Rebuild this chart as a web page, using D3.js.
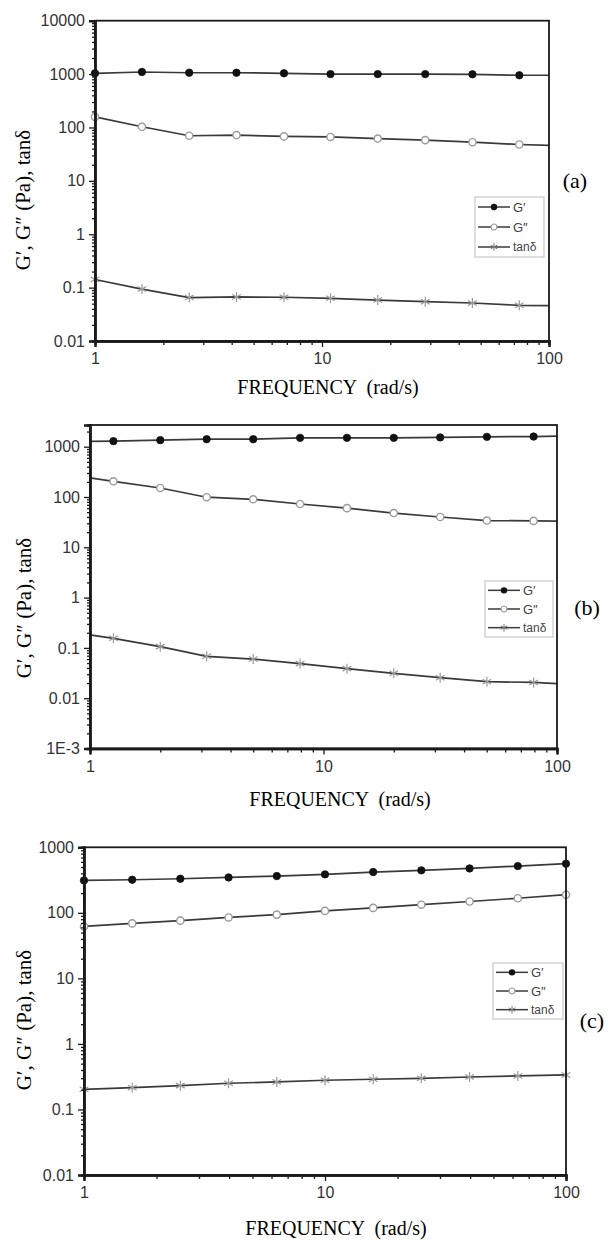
<!DOCTYPE html>
<html>
<head>
<meta charset="utf-8">
<script src="https://cdn.jsdelivr.net/npm/d3@7"></script>
<style>
  body { margin: 0; background: #fff; }
  svg { display: block; }
</style>
</head>
<body>
<svg width="612" height="1241"></svg>
<script>
const svg = d3.select('svg')

// panel (a)
const freqA = [1, 1.61, 2.6, 4.2, 6.8, 10.9, 17.6, 28.5, 46, 74, 100];
const gpA   = [1035, 1095, 1060, 1060, 1035, 1000, 1000, 1000, 990, 950, 950];
const gppA  = [158, 103, 70, 72, 68, 66.5, 62, 58, 53, 48, 46];
const tanA  = [0.142, 0.094, 0.065, 0.067, 0.066, 0.063, 0.0585, 0.0545, 0.0515, 0.0466, 0.046];
const yTicksA = [10000, 1000, 100, 10, 1, 0.1, 0.01];
const yLabelsA = ['10000', '1000', '100', '10', '1', '0.1', '0.01'];

// panel (b)
const freqB = [1, 1.26, 2, 3.16, 5, 7.94, 12.6, 20, 31.6, 50.1, 79.4, 100];
const gpB   = [1280, 1290, 1350, 1410, 1410, 1500, 1500, 1500, 1530, 1570, 1590, 1620];
const gppB  = [239, 205, 151, 99, 90, 72.5, 60, 48, 40, 34, 33.5, 33];
const tanB  = [0.181, 0.155, 0.106, 0.068, 0.060, 0.0487, 0.0387, 0.0312, 0.0256, 0.0213, 0.0206, 0.0195];
const yTicksB = [1000, 100, 10, 1, 0.1, 0.01, 0.001];
const yLabelsB = ['1000', '100', '10', '1', '0.1', '0.01', '1E-3'];

// panel (c)
const freqC = [1, 1.585, 2.51, 3.98, 6.31, 10, 15.85, 25.1, 39.8, 63.1, 100];
const gpC   = [312, 320, 331, 347, 364, 386, 419, 445, 476, 517, 562];
const gppC  = [62, 69, 76, 85, 94, 107, 119, 133, 149, 167, 189];
const tanC  = [0.203, 0.215, 0.231, 0.251, 0.263, 0.279, 0.289, 0.299, 0.313, 0.325, 0.336];
const yTicksC = [1000, 100, 10, 1, 0.1, 0.01];
const yLabelsC = ['1000', '100', '10', '1', '0.1', '0.01'];

const xTicks = [1, 10, 100];
const xLabels = ['1', '10', '100'];
const legendNames = ['G\u2032', 'G\u2033', 'tan\u03b4'];

const panels = [
  { freq: freqA, gp: gpA, gpp: gppA, tan: tanA, yTicks: yTicksA, yLabels: yLabelsA,
    yMin: 0.01, yMax: 10000, left: 95, right: 549, top: 20.7, bottom: 341,
    marks: [0, 9], legend: [475, 197, 69, 60], tag: '(a)', tagPos: [575, 180],
    titlePos: [328, 394], ylabPos: [30, 200] },
  { freq: freqB, gp: gpB, gpp: gppB, tan: tanB, yTicks: yTicksB, yLabels: yLabelsB,
    yMin: 0.001, yMax: 2700, left: 90, right: 557, top: 425, bottom: 748.5,
    marks: [1, 10], legend: [485, 581, 68, 56], tag: '(b)', tagPos: [587, 607],
    titlePos: [340, 806], ylabPos: [31, 608] },
  { freq: freqC, gp: gpC, gpp: gppC, tan: tanC, yTicks: yTicksC, yLabels: yLabelsC,
    yMin: 0.01, yMax: 1000, left: 84, right: 566, top: 847.3, bottom: 1175,
    marks: [0, 10], legend: [493, 963, 70, 56], tag: '(c)', tagPos: [592, 1020],
    titlePos: [336, 1235], ylabPos: [31, 1020] }
];

const lineColor = '#3a3a3a';
const star = d3.symbol().type(d3.symbolAsterisk).size(70);

function minorTicks(lo, hi) {
  let out = [];
  for (let e = Math.floor(Math.log10(lo)); e < Math.ceil(Math.log10(hi)); e++) {
    for (let k = 2; k <= 9; k++) {
      let v = k * Math.pow(10, e);
      if (v > lo * 1.0001 && v < hi * 0.9999) out.push(v);
    }
  }
  return out;
}

function drawMarker(sel, kind) {
  if (kind == 0) {
    sel.append('circle').attr('r', 3.7).attr('fill', '#111').attr('stroke', '#111').attr('stroke-width', 0.8);
  } else if (kind == 1) {
    sel.append('circle').attr('r', 3.6).attr('fill', '#fff').attr('stroke', '#9a9a9a').attr('stroke-width', 1.4);
  } else {
    sel.append('path').attr('d', star).attr('fill', 'none').attr('stroke', '#9a9a9a').attr('stroke-width', 1.2);
  }
}

function drawPanel(p) {
  const x = d3.scaleLog().domain([1, 100]).range([p.left, p.right]);
  const y = d3.scaleLog().domain([p.yMin, p.yMax]).range([p.bottom, p.top]);
  const g = svg.append('g');

  const series = [p.gp, p.gpp, p.tan];
  const line = d3.line().x(d => x(d[0])).y(d => y(d[1]));

  series.forEach((vals, si) => {
    const pts = p.freq.map((f, i) => [f, vals[i]]);
    g.append('path')
      .attr('d', line(pts))
      .attr('fill', 'none')
      .attr('stroke', lineColor)
      .attr('stroke-width', 1.7);
    const marked = pts.filter((d, i) => i >= p.marks[0] && i <= p.marks[1]);
    g.selectAll(null).data(marked).enter().append('g')
      .attr('transform', d => `translate(${x(d[0])},${y(d[1])})`)
      .each(function () { drawMarker(d3.select(this), si); });
  });

  // frame
  g.append('rect')
    .attr('x', p.left).attr('y', p.top)
    .attr('width', p.right - p.left).attr('height', p.bottom - p.top)
    .attr('fill', 'none').attr('stroke', '#1a1a1a').attr('stroke-width', 1.8);

  // y axis
  const yMajor = d3.axisLeft(y).tickValues(p.yTicks).tickSize(6)
    .tickFormat((d, i) => p.yLabels[i]).tickPadding(4);
  const yMinor = d3.axisLeft(y).tickValues(minorTicks(p.yMin, p.yMax)).tickSize(3).tickFormat('');
  const ya = g.append('g').attr('transform', `translate(${p.left},0)`).call(yMajor);
  const ym = g.append('g').attr('transform', `translate(${p.left},0)`).call(yMinor);

  // x axis
  const xMajor = d3.axisBottom(x).tickValues(xTicks).tickSize(6)
    .tickFormat((d, i) => xLabels[i]).tickPadding(6);
  const xMinor = d3.axisBottom(x).tickValues(minorTicks(1, 100)).tickSize(4).tickFormat('');
  const xa = g.append('g').attr('transform', `translate(0,${p.bottom})`).call(xMajor);
  const xm = g.append('g').attr('transform', `translate(0,${p.bottom})`).call(xMinor);

  [ya, ym, xa, xm].forEach(a => {
    a.select('.domain').attr('stroke', '#1a1a1a').attr('stroke-width', 2.4);
    a.selectAll('.tick line').attr('stroke', '#1a1a1a').attr('stroke-width', 1.3);
    a.selectAll('.tick text')
      .attr('fill', '#333')
      .style('font-family', '"Liberation Sans", Arial, sans-serif')
      .style('font-size', '16px');
  });

  // legend
  const [lx, ly, lw, lh] = p.legend;
  const lg = g.append('g');
  lg.append('rect').attr('x', lx).attr('y', ly).attr('width', lw).attr('height', lh)
    .attr('fill', '#fff').attr('stroke', '#bdbdbd').attr('stroke-width', 1);
  const step = lh / 3;
  legendNames.forEach((name, i) => {
    const cy = ly + step * (i + 0.5);
    lg.append('line').attr('x1', lx + 3).attr('x2', lx + 35).attr('y1', cy).attr('y2', cy)
      .attr('stroke', lineColor).attr('stroke-width', 1.5);
    const m = lg.append('g').attr('transform', `translate(${lx + 19},${cy})`);
    if (i == 0) m.append('circle').attr('r', 3.2).attr('fill', '#111');
    else if (i == 1) m.append('circle').attr('r', 3).attr('fill', '#fff').attr('stroke', '#9a9a9a').attr('stroke-width', 1.2);
    else m.append('path').attr('d', d3.symbol().type(d3.symbolAsterisk).size(40)).attr('stroke', '#777').attr('stroke-width', 1);
    lg.append('text').attr('x', lx + 38).attr('y', cy).attr('dy', '0.36em')
      .attr('fill', '#444')
      .style('font-family', '"Liberation Sans", Arial, sans-serif')
      .style('font-size', i == 2 ? '12px' : '13px')
      .text(name);
  });

  // tag
  g.append('text').attr('x', p.tagPos[0]).attr('y', p.tagPos[1]).attr('dy', '0.35em')
    .attr('text-anchor', 'middle')
    .style('font-family', '"Liberation Serif", "Times New Roman", serif')
    .style('font-size', '22px')
    .text(p.tag);

  // x title
  g.append('text').attr('x', p.titlePos[0]).attr('y', p.titlePos[1])
    .attr('text-anchor', 'middle')
    .attr('xml:space', 'preserve')
    .style('white-space', 'pre')
    .style('font-family', '"Liberation Serif", "Times New Roman", serif')
    .style('font-size', '20px')
    .text('FREQUENCY  (rad/s)');

  // y title
  g.append('text')
    .attr('transform', `translate(${p.ylabPos[0]},${p.ylabPos[1]}) rotate(-90)`)
    .attr('text-anchor', 'middle')
    .style('font-family', '"Liberation Serif", "Times New Roman", serif')
    .style('font-size', '21px')
    .text('G\u2032, G\u2033 (Pa), tan\u03b4');
}

panels.forEach(drawPanel);
</script>
</body>
</html>
